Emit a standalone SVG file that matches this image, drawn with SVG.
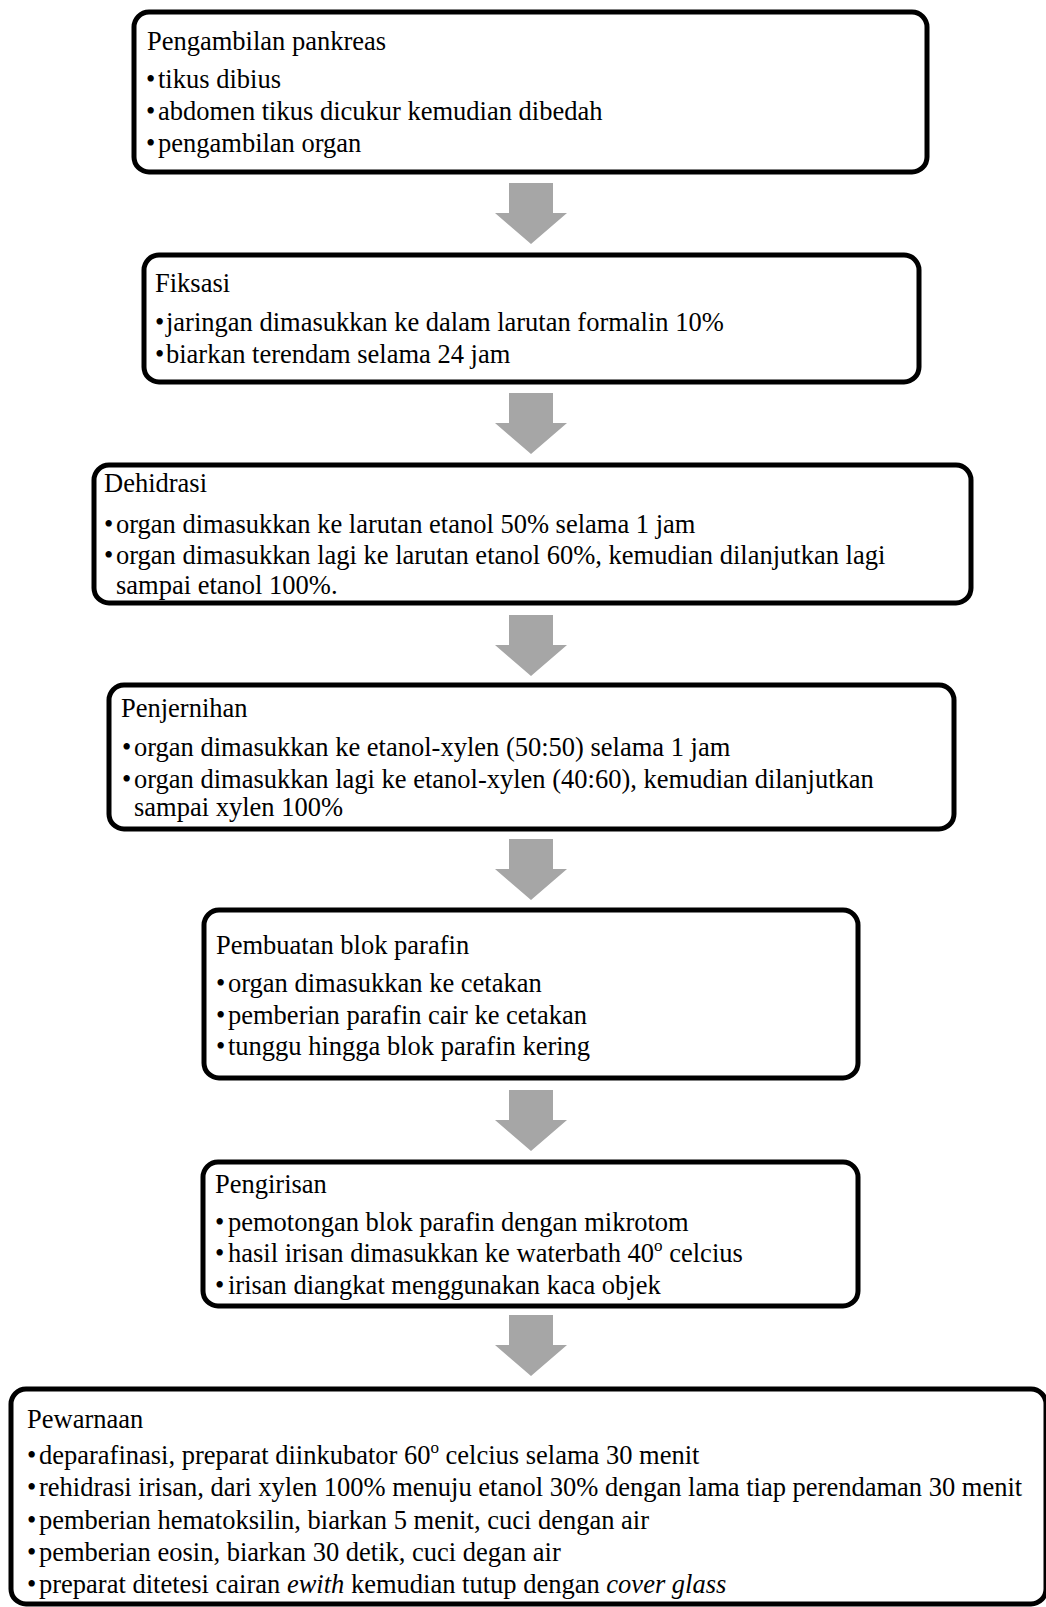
<svg xmlns="http://www.w3.org/2000/svg" width="1046" height="1607" viewBox="0 0 1046 1607">
<style>
.box{fill:#fff;stroke:#000;stroke-width:5}
.t{font-family:"Liberation Serif","Times New Roman",serif;font-size:26.5px;fill:#000}
.arr{fill:#a6a6a6}
.sup{font-size:17px}
.it{font-style:italic}
</style>
<defs>
<polygon id="arrow" class="arr" points="509,0 553,0 553,30 567,30 531,61 495,30 509,30"/>
</defs>
<rect width="1046" height="1607" fill="#fff"/>
<g id="connectors">
<use href="#arrow" y="183"/>
<use href="#arrow" y="393"/>
<use href="#arrow" y="615"/>
<use href="#arrow" y="839"/>
<use href="#arrow" y="1090"/>
<use href="#arrow" y="1315"/>
</g>
<g id="node-pengambilan">
<rect class="box" x="134" y="12" width="793" height="160" rx="15"/>
<text class="t" x="147" y="50">Pengambilan pankreas</text>
<text class="t" y="88"><tspan x="146">•</tspan><tspan x="158">tikus dibius</tspan></text>
<text class="t" y="120"><tspan x="146">•</tspan><tspan x="158">abdomen tikus dicukur kemudian dibedah</tspan></text>
<text class="t" y="152"><tspan x="146">•</tspan><tspan x="158">pengambilan organ</tspan></text>
</g>
<g id="node-fiksasi">
<rect class="box" x="144" y="255" width="775" height="127" rx="15"/>
<text class="t" x="155" y="292">Fiksasi</text>
<text class="t" y="331"><tspan x="155">•</tspan><tspan x="166">jaringan dimasukkan ke dalam larutan formalin 10%</tspan></text>
<text class="t" y="363"><tspan x="155">•</tspan><tspan x="166">biarkan terendam selama 24 jam</tspan></text>
</g>
<g id="node-dehidrasi">
<rect class="box" x="94" y="465" width="877" height="138" rx="15"/>
<text class="t" x="104" y="492">Dehidrasi</text>
<text class="t" y="533"><tspan x="104">•</tspan><tspan x="116">organ dimasukkan ke larutan etanol 50% selama 1 jam</tspan></text>
<text class="t" y="564"><tspan x="104">•</tspan><tspan x="116">organ dimasukkan lagi ke larutan etanol 60%, kemudian dilanjutkan lagi</tspan></text>
<text class="t" x="116" y="594">sampai etanol 100%.</text>
</g>
<g id="node-penjernihan">
<rect class="box" x="109" y="685" width="845" height="144" rx="15"/>
<text class="t" x="121" y="717">Penjernihan</text>
<text class="t" y="756"><tspan x="122">•</tspan><tspan x="134">organ dimasukkan ke etanol-xylen (50:50) selama 1 jam</tspan></text>
<text class="t" y="788"><tspan x="122">•</tspan><tspan x="134">organ dimasukkan lagi ke etanol-xylen (40:60), kemudian dilanjutkan</tspan></text>
<text class="t" x="134" y="816">sampai xylen 100%</text>
</g>
<g id="node-pembuatan">
<rect class="box" x="204" y="910" width="654" height="168" rx="15"/>
<text class="t" x="216" y="954">Pembuatan blok parafin</text>
<text class="t" y="992"><tspan x="216">•</tspan><tspan x="228">organ dimasukkan ke cetakan</tspan></text>
<text class="t" y="1024"><tspan x="216">•</tspan><tspan x="228">pemberian parafin cair ke cetakan</tspan></text>
<text class="t" y="1055"><tspan x="216">•</tspan><tspan x="228">tunggu hingga blok parafin kering</tspan></text>
</g>
<g id="node-pengirisan">
<rect class="box" x="203" y="1162" width="655" height="144" rx="15"/>
<text class="t" x="215" y="1193">Pengirisan</text>
<text class="t" y="1231"><tspan x="215">•</tspan><tspan x="228">pemotongan blok parafin dengan mikrotom</tspan></text>
<text class="t" y="1262"><tspan x="215">•</tspan><tspan x="228">hasil irisan dimasukkan ke waterbath 40</tspan><tspan class="sup" dy="-11">o</tspan><tspan dy="11"> celcius</tspan></text>
<text class="t" y="1294"><tspan x="215">•</tspan><tspan x="228">irisan diangkat menggunakan kaca objek</tspan></text>
</g>
<g id="node-pewarnaan">
<rect class="box" x="11" y="1389" width="1035" height="215" rx="15"/>
<text class="t" x="27" y="1428">Pewarnaan</text>
<text class="t" y="1464"><tspan x="27">•</tspan><tspan x="39">deparafinasi, preparat diinkubator 60</tspan><tspan class="sup" dy="-11">o</tspan><tspan dy="11"> celcius selama 30 menit</tspan></text>
<text class="t" y="1496"><tspan x="27">•</tspan><tspan x="39">rehidrasi irisan, dari xylen 100% menuju etanol 30% dengan lama tiap perendaman 30 menit</tspan></text>
<text class="t" y="1529"><tspan x="27">•</tspan><tspan x="39">pemberian hematoksilin, biarkan 5 menit, cuci dengan air</tspan></text>
<text class="t" y="1561"><tspan x="27">•</tspan><tspan x="39">pemberian eosin, biarkan 30 detik, cuci degan air</tspan></text>
<text class="t" y="1593"><tspan x="27">•</tspan><tspan x="39">preparat ditetesi cairan </tspan><tspan class="it">ewith</tspan><tspan> kemudian tutup dengan </tspan><tspan class="it">cover glass</tspan></text>
</g>
</svg>
